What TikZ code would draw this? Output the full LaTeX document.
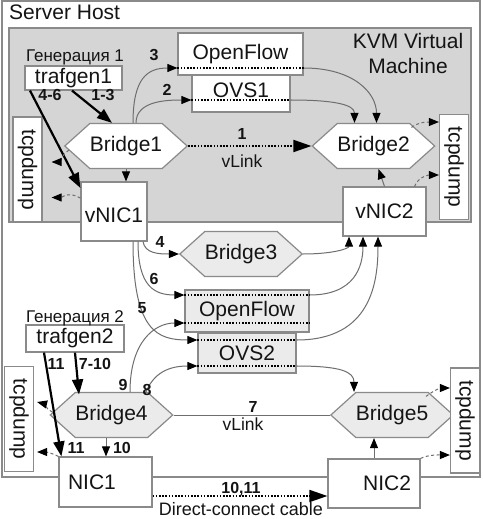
\documentclass[tikz,border=0pt]{standalone}
\usepackage{fontspec}
\setmainfont{Liberation Sans}
\usetikzlibrary{arrows.meta,shapes.symbols,calc}
\definecolor{edgegray}{HTML}{8A8A8A}
\definecolor{linegray}{HTML}{6E6E6E}
\definecolor{vmfill}{HTML}{D5D5D5}
\definecolor{lightfill}{HTML}{EBEBEB}
\definecolor{txt}{HTML}{141414}
\newcommand\mainfnt{\fontsize{21}{25}\selectfont}
\newcommand\smallfnt{\fontsize{17.5}{20}\selectfont}
\newcommand\labfnt{\bfseries\fontsize{16}{18}\selectfont}
\begin{document}
\begin{tikzpicture}[x=1pt,y=-1pt,
  frame/.style={draw=edgegray, line width=1.2pt, inner sep=0pt},
  box/.style={draw=edgegray, line width=1.2pt, fill=white, inner sep=0pt, font=\mainfnt, text=txt},
  lbox/.style={box, fill=lightfill},
  hexa/.style={draw=edgegray, line width=1.2pt, fill=white, shape=signal, signal to=west and east, signal pointer angle=84, inner sep=0pt, font=\mainfnt, text=txt, minimum height=45pt},
  lhexa/.style={hexa, fill=lightfill},
  tcp/.style={box, rotate=-90, minimum width=105pt, minimum height=29pt},
  conn/.style={draw=linegray, line width=1pt},
  arr/.style={conn, -{Triangle[length=10pt,width=8pt,color=black]}},
  dotl/.style={draw=black, line width=1.8pt, dash pattern=on 1.5pt off 1.7pt},
  dotarr/.style={dotl, -{Triangle[length=18pt,width=12pt,color=black]}},
  thickarr/.style={draw=black, line width=2.2pt, -{Triangle[length=15pt,width=11pt]}},
  dasharr/.style={draw=linegray, line width=1pt, dash pattern=on 3pt off 2.5pt, -{Triangle[length=10pt,width=8pt,color=black]}},
  lab/.style={font=\labfnt, text=txt, inner sep=0pt, anchor=base},
  small/.style={font=\smallfnt, text=txt, inner sep=0pt, anchor=base}
]
\useasboundingbox (0,0) rectangle (482,519);
\fill[white] (0,0) rectangle (482,519);

% frames
\node[frame, minimum width=478pt, minimum height=476pt] (host) at (241,239) {};
\node[font=\mainfnt, text=txt, anchor=base west, inner sep=0pt] (hostlab) at (9,20) {Server Host};
\node[frame, fill=vmfill, minimum width=462pt, minimum height=194pt] (vm) at (240,125) {};
\node[font=\mainfnt, text=txt, align=center, inner sep=0pt] (vmlab) at (408,53.5) {KVM Virtual\\Machine};

% upper part
\node[box, minimum width=97pt, minimum height=24pt] (trafgen1) at (73.5,78) {trafgen1};
\node[small, font=\fontsize{17}{20}\selectfont] (gen1) at (75,62) {Генерация 1};
\node[hexa, minimum width=118pt] (bridge1) at (126,146) {Bridge1};
\node[tcp] (tcpA) at (27.5,169.5) {tcpdump};
\node[box, minimum width=66pt, minimum height=59pt, text height=21pt, text depth=0pt] (vnic1) at (114,211.5) {vNIC1};
\node[box, minimum width=98pt, minimum height=37pt, text height=15pt, text depth=8pt] (ovs1) at (241,93.5) {OVS1};
\node[box, minimum width=125pt, minimum height=42pt] (of1) at (240.5,54) {OpenFlow};
\node[hexa, minimum width=121pt] (bridge2) at (373.5,146) {Bridge2};
\node[tcp] (tcpB) at (454,167) {tcpdump};
\node[box, minimum width=83pt, minimum height=49pt] (vnic2) at (384.5,211.5) {vNIC2};

% middle
\node[lhexa, minimum width=122pt] (bridge3) at (241,254) {Bridge3};
\node[lbox, minimum width=124pt, minimum height=42pt] (of2) at (247,311) {OpenFlow};
\node[lbox, minimum width=98pt, minimum height=40pt] (ovs2) at (247,353) {OVS2};

% lower part
\node[box, minimum width=98pt, minimum height=27pt] (trafgen2) at (75,338.5) {trafgen2};
\node[small, font=\fontsize{17}{20}\selectfont] (gen2) at (75,322) {Генерация 2};
\node[tcp] (tcpC) at (19,419) {tcpdump};
\node[lhexa, minimum width=107pt] (bridge4) at (111.5,415) {Bridge4};
\node[lhexa, minimum width=106pt] (bridge5) at (392,415) {Bridge5};
\node[tcp] (tcpD) at (465,420.5) {tcpdump};
\node[box, minimum height=50pt, text width=75pt, inner xsep=9pt, align=left] (nic1) at (105.5,482) {NIC1};
\node[box, minimum height=49pt, text width=74pt, inner xsep=9pt, align=right] (nic2) at (374,483.5) {NIC2};

% trafgen1 arrows
\draw[thickarr] ([xshift=-1.5pt]trafgen1.south) -- ([xshift=-14pt]bridge1.north);
\draw[thickarr] ([xshift=-43.5pt]trafgen1.south) -- ([yshift=23.5pt]vnic1.west);
\node[lab] (l13) at (103,100) {1-3};
\node[lab] (l46) at (50,100) {4-6};

% bridge1 -> vnic1
\draw[arr] (bridge1.south) -- (bridge1.south |- vnic1.north);

% path 3 via OpenFlow
\draw[arr] ([xshift=7pt]bridge1.north) .. controls +(0,-45) and +(-30,0) .. ([yshift=-14pt]of1.west);
\draw[dotl] ([yshift=-14pt]of1.west) -- ([yshift=-14pt]of1.east);
\draw[arr] ([yshift=-14pt]of1.east) .. controls +(50,0) and +(0,-30) .. ([xshift=3pt]bridge2.north);
\node[lab] (l3) at (154,60) {3};
% path 2 via OVS1
\draw[arr] ([xshift=10pt]bridge1.north) .. controls +(0,-22) and +(-25,0) .. ([yshift=-6.5pt]ovs1.west);
\draw[dotl] ([yshift=-6.5pt]ovs1.west) -- ([yshift=-6.5pt]ovs1.east);
\draw[arr] ([yshift=-6.5pt]ovs1.east) .. controls +(45,0) and +(0,-18) .. ([xshift=-19pt]bridge2.north);
\node[lab] (l2) at (167,95) {2};

% vLink 1
\draw[dotarr] (bridge1.east) -- (bridge2.west);
\node[lab] (l1) at (242,139) {1};
\node[small] (vl1) at (242,167) {vLink};

% vnic2 -> bridge2
\draw[arr] (vnic2.north) -- ([xshift=5pt]bridge2.south);

% tcpdump arrows upper (rotated nodes: south = left side, north = right side)
\draw[dasharr] ([xshift=38pt,yshift=-4.5pt]bridge2.north) .. controls +(8,-6) and +(-10,0) .. ([yshift=45pt]tcpB.south);
\draw[dasharr] ([xshift=30pt]vnic2.north) .. controls +(4,-10) and +(-10,0) .. ([yshift=-8pt]tcpB.south);
\draw[dasharr] ([xshift=5pt,yshift=-4pt]bridge1.west) .. controls +(-8,6) and +(8,0) .. ([xshift=9pt,yshift=7.5pt]tcpA.north);
\draw[dasharr] ([yshift=13.5pt]vnic1.west) .. controls +(-12,-7) and +(10,0) .. ([xshift=9pt,yshift=-28pt]tcpA.north);

% from vnic1 down
\draw[arr] ([xshift=29pt]vnic1.south) .. controls +(2,12) and +(-20,0) .. (bridge3.west);
\node[lab] (l4) at (160,247) {4};
\draw[arr] (bridge3.east) .. controls +(30,0) and +(0,12) .. ([xshift=-35.5pt]vnic2.south);
\draw[arr] ([xshift=24pt]vnic1.south) .. controls +(0,45) and +(-30,0) .. ([yshift=16pt]of2.west);
\node[lab] (l6) at (154,284) {6};
\draw[arr] ([xshift=19pt]vnic1.south) .. controls +(0,90) and +(-40,0) .. ([yshift=13pt]ovs2.west);
\node[lab] (l5) at (142,313) {5};
\draw[dotl] ([yshift=16pt]of2.west) -- ([yshift=16pt]of2.east);
\draw[arr] ([yshift=16pt]of2.east) .. controls +(45,0) and +(0,30) .. ([xshift=-21.5pt]vnic2.south);
\draw[dotl] ([yshift=13pt]ovs2.west) -- ([yshift=13pt]ovs2.east);
\draw[arr] ([yshift=13pt]ovs2.east) .. controls +(75,0) and +(0,45) .. ([xshift=-6.5pt]vnic2.south);

% from bridge4 up
\draw[dotl] ([yshift=-12pt]of2.west) -- ([yshift=-12pt]of2.east);
\draw[arr] ([xshift=18.5pt]bridge4.north) .. controls +(0,-50) and +(-30,0) .. ([yshift=-12pt]of2.west);
\node[lab] (l9) at (123,390) {9};
\draw[arr] ([xshift=33.5pt,yshift=-2.5pt]bridge4.north) .. controls +(8,-22) and +(-28,0) .. ([yshift=-13pt]ovs2.west);
\node[lab] (l8) at (147,395) {8};
\draw[dotl] ([yshift=-13pt]ovs2.west) -- ([yshift=-13pt]ovs2.east);
\draw[arr] ([yshift=-13pt]ovs2.east) .. controls +(45,0) and +(0,-20) .. ([xshift=-38pt]bridge5.north);

% vLink 7
\draw[conn] (bridge4.east) -- (bridge5.west);
\node[lab] (l7) at (253,412) {7};
\node[small] (vl2) at (243,430) {vLink};

% trafgen2 arrows
\draw[thickarr] (trafgen2.south) -- ([xshift=-32.5pt,yshift=-2.5pt]bridge4.north);
\draw[thickarr] ([xshift=-31pt]trafgen2.south) -- ([xshift=3pt]nic1.north west);
\node[lab] (l710) at (95,369) {7-10};
\node[lab] (l11a) at (56,369) {11};
\node[lab] (l11b) at (76,453) {11};
\draw[arr] ([xshift=-5.5pt]bridge4.south) -- ([xshift=0.5pt]nic1.north);
\node[lab] (l10) at (122,453) {10};

% tcpdump arrows lower
\draw[dasharr] ([xshift=3pt,yshift=3pt]bridge4.west) .. controls +(-8,-4) and +(8,2) .. ([xshift=3pt,yshift=17pt]tcpC.north);
\draw[dasharr] (nic1.north west) .. controls +(-8,-4) and +(8,0) .. ([xshift=3pt,yshift=-33pt]tcpC.north);
\draw[dasharr] ([xshift=34pt,yshift=-4.5pt]bridge5.north) .. controls +(8,-6) and +(-10,0) .. ([yshift=32.5pt]tcpD.south);
\draw[dasharr] (nic2.north east) .. controls +(8,-4) and +(-10,0) .. ([yshift=-34.5pt]tcpD.south);

% nic2 -> bridge5
\draw[arr] (nic2.north) -- ([xshift=-18pt]bridge5.south);

% direct cable
\draw[dotarr] ([yshift=-14pt]nic1.east) -- ([yshift=-12.5pt]nic2.west);
\node[lab] (l1011) at (241,493) {10,11};
\node[small, font=\fontsize{18}{20}\selectfont] (dcc) at (241,515) {Direct-connect cable};
\end{tikzpicture}
\end{document}
